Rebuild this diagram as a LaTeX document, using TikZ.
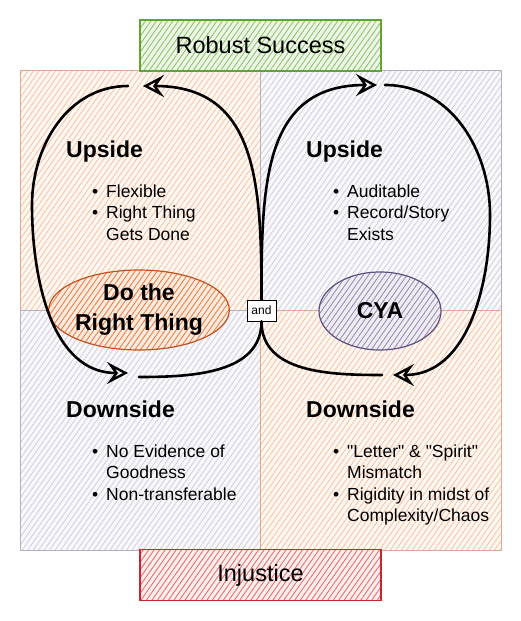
\documentclass[tikz,border=0pt]{standalone}
\usepackage{fontspec}
\setmainfont{Liberation Sans}
\usetikzlibrary{arrows.meta,patterns.meta,shapes.geometric}

\definecolor{warmbg}{HTML}{FFF8F3}
\definecolor{warmhatch}{HTML}{F5C6A8}
\definecolor{warmedge}{HTML}{E3A893}
\definecolor{coolbg}{HTML}{F9F8FB}
\definecolor{coolhatch}{HTML}{D5D0DF}
\definecolor{cooledge}{HTML}{B3AEC2}
\definecolor{greenbg}{HTML}{EEF7E7}
\definecolor{greenhatch}{HTML}{8DC46B}
\definecolor{greenedge}{HTML}{5FA437}
\definecolor{redbg}{HTML}{FDEEEE}
\definecolor{redhatch}{HTML}{E57070}
\definecolor{rededge}{HTML}{C82828}
\definecolor{drtbg}{HTML}{FDEBDF}
\definecolor{drthatch}{HTML}{EA8048}
\definecolor{drtedge}{HTML}{C4521D}
\definecolor{cyabg}{HTML}{EFECF4}
\definecolor{cyahatch}{HTML}{9A8DB2}
\definecolor{cyaedge}{HTML}{5B5180}

\newcommand{\bul}{\makebox[14pt][l]{\textbullet}}
\newcommand{\ind}{\hspace*{14pt}}

\begin{document}
\begin{tikzpicture}[x=1pt,y=-1pt,
  hatch/.style 2 args={preaction={fill=#1}, pattern={Lines[angle=55,distance=4.5pt,line width=0.9pt]}, pattern color=#2},
  quadwarm/.style={draw=warmedge, line width=0.8pt, hatch={warmbg}{warmhatch}},
  quadcool/.style={draw=cooledge, line width=0.8pt, hatch={coolbg}{coolhatch}},
  outcome/.style={rectangle, line width=1.2pt, minimum width=241pt, minimum height=51pt, font=\fontsize{23.5}{28}\selectfont},
  blob/.style={ellipse, line width=1.2pt, align=center, inner sep=0pt, font=\bfseries\fontsize{23}{30}\selectfont},
  head/.style={anchor=base west, inner sep=0pt, font=\bfseries\fontsize{23}{28}\selectfont},
  bullets/.style={anchor=base west, inner sep=0pt, align=left, font=\fontsize{17.5}{21.5}\selectfont},
  cyc/.style={line width=2.6pt, line cap=round},
  headed/.style={-{Stealth[open,length=21pt,width=22pt,inset=8pt,line width=2.4pt]}}
]
\useasboundingbox (0,0) rectangle (521,621);

\path[quadwarm] (20,70) rectangle (260,310);
\path[quadcool] (260,70) rectangle (501,310);
\path[quadcool] (20,310) rectangle (260,550);
\path[quadwarm] (260,310) rectangle (501,550);

\node[outcome, draw=greenedge, hatch={greenbg}{greenhatch}] (success) at (260.5,45.5) {Robust Success};
\node[outcome, draw=rededge, hatch={redbg}{redhatch}] (injustice) at (260.5,575) {Injustice};

\node[blob, draw=drtedge, hatch={drtbg}{drthatch}, minimum width=162pt, minimum height=80pt] (drt) at (139,310) {Do the\\Right Thing};
\node[blob, draw=cyaedge, hatch={cyabg}{cyahatch}, minimum width=122pt, minimum height=78pt] (cya) at (380,311) {CYA};

% list nodes sit on the baseline of their last line
\node[head] (upl) at (66,157) {Upside};
\node[bullets] (upllist) at (92,240) {\bul Flexible\\\bul Right Thing\\\ind Gets Done};
\node[head] (upr) at (306,157) {Upside};
\node[bullets] (uprlist) at (333,240) {\bul Auditable\\\bul Record/Story\\\ind Exists};
\node[head] (downl) at (66,417) {Downside};
\node[bullets] (downllist) at (92,500) {\bul No Evidence of\\\ind Goodness\\\bul Non-transferable};
\node[head] (downr) at (306,417) {Downside};
\node[bullets] (downrlist) at (333,521.5) {\bul \textquotedbl Letter\textquotedbl{} \& \textquotedbl Spirit\textquotedbl\\\ind Mismatch\\\bul Rigidity in midst of\\\ind Complexity/Chaos};

\coordinate (tlhead) at (143,86);
\coordinate (tltail) at (128,86);
\coordinate (lside) at (32,205);
\coordinate (blhead) at (128,373);
\coordinate (bltail) at (139,377);
\coordinate (trhead) at (377,85);
\coordinate (trtail) at (385,85);
\coordinate (rside) at (490,215);
\coordinate (brhead) at (393,375);
\coordinate (brtail) at (382,375);

\node[draw, fill=white, line width=0.8pt, inner sep=1pt, minimum width=29pt, minimum height=21pt, font=\fontsize{12}{14}\selectfont] (and) at (261.5,310.5) {and};

\draw[cyc, headed] (and.north) to[out=90, in=0, looseness=1.2] (tlhead);
\draw[cyc, headed] (tltail) to[out=180, in=90] (lside) to[out=-90, in=180] (blhead);
\draw[cyc] (bltail) to[out=0, in=-90] (and.south);
\draw[cyc, headed] (and.north) to[out=90, in=180, looseness=1.2] (trhead);
\draw[cyc, headed] (trtail) to[out=0, in=90] (rside) to[out=-90, in=0] (brhead);
\draw[cyc] (brtail) to[out=180, in=-90] (and.south);
\end{tikzpicture}
\end{document}
